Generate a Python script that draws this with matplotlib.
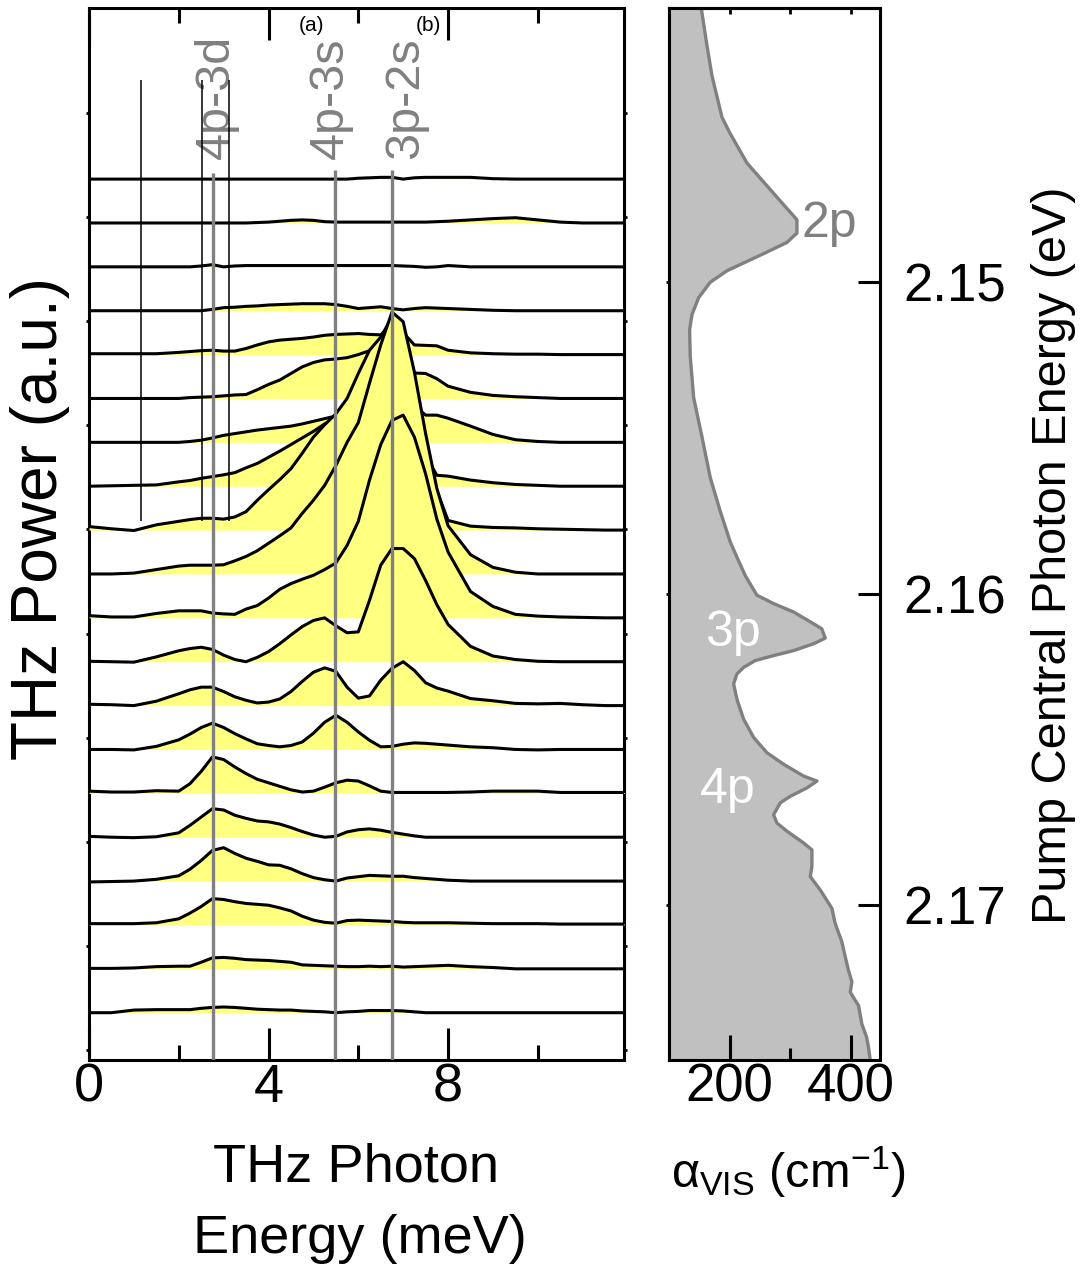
import numpy as np
import matplotlib
matplotlib.use("Agg")
import matplotlib.pyplot as plt

plt.rcParams['font.family'] = ['Liberation Sans', 'DejaVu Sans']
plt.rcParams['mathtext.fontset'] = 'custom'
plt.rcParams['mathtext.rm'] = 'Liberation Sans'
plt.rcParams['mathtext.it'] = 'Liberation Sans'

# THz photon energy grid (meV)
thz_energy = [0, 0.5, 1, 1.5, 2, 2.25, 2.5, 2.75, 3, 3.25, 3.5, 3.75, 4, 4.25, 4.5, 4.75,
              5, 5.25, 5.5, 5.75, 6, 6.25, 6.5, 6.75, 7, 7.25, 7.5, 7.75, 8, 8.5, 9, 9.5,
              10, 10.5, 11, 11.5, 12]

# THz power spectra, top trace first, in units of the trace offset
thz_power = [
    [0, 0, 0, 0, 0, 0, 0, 0, 0, 0, 0, 0, 0, 0, 0, 0, 0, 0, 0, 0, 0.02, 0.03, 0.04, 0.04, 0.0,
     0.03, 0.04, 0.04, 0.04, 0.04, 0.01, 0, 0, 0, 0, 0, 0],
    [0, 0, 0, 0, 0, 0, 0, 0, 0, 0, 0, 0.01, 0.02, 0.04, 0.06, 0.07, 0.06, 0.03, 0.02, 0.02, 0.02,
     0.02, 0.02, 0.02, 0.02, 0.02, 0.02, 0.03, 0.04, 0.07, 0.1, 0.12, 0.07, 0.02, 0, 0, 0],
    [0, 0, 0, 0, 0, 0, 0.02, 0.05, 0.0, 0.02, 0.03, 0.03, 0.03, 0.03, 0.03, 0.03, 0.03, 0.03, 0.03,
     0.03, 0.03, 0.03, 0.03, 0.03, 0.02, 0.01, -0.01, 0.0, 0.03, 0.0, 0, 0, 0, 0, 0, 0, 0],
    [0, 0, 0, 0, 0, 0, 0, 0.03, 0.07, 0.08, 0.1, 0.11, 0.13, 0.14, 0.15, 0.16, 0.16, 0.16, 0.14,
     0.1, 0.05, 0.07, 0.09, 0.05, 0.02, 0.05, 0.07, 0.06, 0.05, 0.03, 0.01, 0, 0, 0, 0, 0, 0],
    [0.02, 0.02, 0.02, 0.02, 0.05, 0.07, 0.09, 0.1, 0.08, 0.08, 0.14, 0.22, 0.29, 0.33, 0.35, 0.37,
     0.4, 0.44, 0.46, 0.47, 0.48, 0.46, 0.45, 0.7, 0.5, 0.22, 0.21, 0.2, 0.1, 0.04, 0.02, 0.01,
     0.01, 0, 0, 0, 0],
    [0, 0, 0, 0, 0, 0.02, 0.03, 0.04, 0.06, 0.08, 0.09, 0.2, 0.32, 0.42, 0.57, 0.72, 0.82, 0.88,
     0.9, 0.93, 1.0, 1.09, 1.2, 1.5, 1.2, 0.58, 0.57, 0.45, 0.28, 0.14, 0.07, 0.04, 0.02, 0, 0, 0, 0],
    [0, 0, 0, 0, 0, 0.02, 0.05, 0.1, 0.16, 0.2, 0.24, 0.28, 0.31, 0.34, 0.37, 0.42, 0.48, 0.54,
     0.6, 0.75, 0.95, 1.2, 1.5, 1.7, 1.3, 0.85, 0.62, 0.62, 0.55, 0.37, 0.18, 0.06, 0.02, 0, 0, 0, 0],
    [0, 0.01, 0.02, 0.03, 0.1, 0.13, 0.18, 0.22, 0.26, 0.31, 0.42, 0.52, 0.66, 0.8, 0.95, 1.1,
     1.25, 1.42, 1.55, 1.75, 2.0, 2.4, 2.8, 3.0, 2.2, 1.4, 0.7, 0.25, 0.23, 0.14, 0.08, 0.04,
     0.02, 0, 0, 0, 0],
    [0.08, 0.03, -0.01, 0.12, 0.2, 0.24, 0.27, 0.27, 0.25, 0.3, 0.42, 0.68, 0.92, 1.15, 1.4, 1.75,
     2.12, 2.4, 2.65, 3.0, 3.57, 4.1, 4.4, 4.85, 4.3, 3.2, 2.0, 0.9, 0.22, 0.09, 0.06, 0.05,
     0.03, 0.02, 0.01, 0, 0],
    [0, 0, 0.02, 0.1, 0.18, 0.2, 0.2, 0.2, 0.21, 0.3, 0.4, 0.53, 0.7, 0.87, 1.05, 1.38, 1.68,
     2.02, 2.47, 3.0, 3.45, 4.35, 5.22, 5.97, 5.75, 4.6, 3.2, 1.95, 1.1, 0.44, 0.15, 0.04,
     0.0, 0, 0, 0, 0],
    [0.05, 0.02, 0.02, 0.1, 0.16, 0.16, 0.16, 0.11, 0.09, 0.08, 0.2, 0.28, 0.45, 0.65, 0.78, 0.88,
     0.97, 1.1, 1.25, 1.65, 2.2, 3.14, 3.95, 4.5, 4.62, 4.12, 3.28, 2.25, 1.5, 0.6, 0.26, 0.08,
     0.04, 0.02, 0.01, 0, 0],
    [0.01, 0.0, -0.01, 0.11, 0.25, 0.3, 0.33, 0.28, 0.15, 0.05, 0.0, 0.1, 0.23, 0.41, 0.61, 0.8,
     0.94, 1.0, 0.82, 0.66, 0.68, 1.4, 2.2, 2.58, 2.58, 2.35, 1.85, 1.3, 0.85, 0.35, 0.13, 0.05,
     0.01, 0, 0, 0, 0],
    [0.03, 0.02, 0.0, 0.1, 0.27, 0.36, 0.42, 0.42, 0.32, 0.2, 0.12, 0.06, 0.08, 0.15, 0.32, 0.55,
     0.76, 0.86, 0.78, 0.42, 0.17, 0.22, 0.58, 0.85, 1.0, 0.8, 0.52, 0.4, 0.33, 0.16, 0.11, 0.05,
     0.04, 0.05, 0.02, 0.0, 0],
    [0, 0, -0.01, 0.07, 0.22, 0.35, 0.5, 0.6, 0.5, 0.36, 0.24, 0.13, 0.09, 0.06, 0.09, 0.17, 0.37,
     0.62, 0.78, 0.62, 0.4, 0.21, 0.06, 0.07, 0.12, 0.15, 0.14, 0.12, 0.1, 0.06, 0.04, 0.0,
     -0.01, 0, 0, 0, 0],
    [0.05, 0.03, 0.03, 0.06, 0.05, 0.22, 0.5, 0.83, 0.77, 0.6, 0.45, 0.32, 0.24, 0.16, 0.08, 0.03,
     0.05, 0.14, 0.24, 0.3, 0.28, 0.17, 0.05, 0.02, 0.02, 0.02, 0.02, 0.02, 0.02, 0.03, 0.05,
     0.05, 0.05, 0.02, 0.02, 0.02, 0.02],
    [0.02, 0.0, -0.01, 0.01, 0.1, 0.27, 0.46, 0.65, 0.62, 0.5, 0.43, 0.37, 0.35, 0.3, 0.22, 0.13,
     0.05, 0.0, 0.02, 0.12, 0.17, 0.19, 0.16, 0.11, 0.07, 0.03, 0.0, 0, 0, 0, 0, 0, 0, 0, 0, 0, 0],
    [-0.02, -0.01, 0.0, 0.04, 0.12, 0.27, 0.47, 0.7, 0.76, 0.63, 0.52, 0.45, 0.37, 0.36, 0.28,
     0.17, 0.08, 0.03, 0.0, 0.07, 0.1, 0.13, 0.12, 0.11, 0.11, 0.08, 0.06, 0.04, 0.02, 0, 0, 0,
     0, 0, 0, 0, 0],
    [0.03, 0.03, 0.03, 0.05, 0.14, 0.27, 0.42, 0.6, 0.58, 0.53, 0.49, 0.47, 0.45, 0.39, 0.32, 0.2,
     0.11, 0.06, 0.04, 0.1, 0.11, 0.1, 0.09, 0.08, 0.06, 0.05, 0.05, 0.05, 0.05, 0.04, 0.03,
     0.03, 0.03, 0.02, 0.02, 0.02, 0.02],
    [0.01, 0.01, 0.02, 0.05, 0.06, 0.06, 0.15, 0.25, 0.26, 0.24, 0.21, 0.2, 0.19, 0.17, 0.15,
     0.09, 0.08, 0.07, 0.06, 0.05, 0.05, 0.06, 0.05, 0.06, 0.04, 0.05, 0.06, 0.07, 0.08, 0.05,
     0.03, 0.0, 0, 0, 0, 0, 0],
    [0, 0, 0.06, 0.07, 0.07, 0.07, 0.1, 0.12, 0.13, 0.12, 0.1, 0.08, 0.07, 0.06, 0.06, 0.04,
     0.03, 0.02, 0.0, 0.02, 0.03, 0.05, 0.05, 0.05, 0.04, 0.02, 0.0, 0, 0, 0, 0, 0, 0, 0, 0, 0, 0],
]

# exciton transitions (meV) and extra marker lines
transition_names = ['4p-3d', '4p-3s', '3p-2s']
transition_mev = [2.766, 5.48, 6.76]
marker_mev = [1.167, 2.52, 3.12]

# visible absorption vs pump central photon energy
pump_energy = [2.14117, 2.14239, 2.14337, 2.14470, 2.14519, 2.14617, 2.14690, 2.14763,
               2.14799, 2.14842, 2.14872, 2.14903, 2.14933, 2.14963, 2.15000, 2.15049,
               2.15103, 2.15152, 2.15237, 2.15371, 2.15493, 2.15627, 2.15736, 2.15834,
               2.15895, 2.15943, 2.16005, 2.16032, 2.16059, 2.16097, 2.16113, 2.16143,
               2.16161, 2.16183, 2.16199, 2.16215, 2.16237, 2.16258, 2.16290, 2.16339,
               2.16403, 2.16462, 2.16511, 2.16548, 2.16586, 2.16602, 2.16624, 2.16651,
               2.16672, 2.16710, 2.16737, 2.16763, 2.16801, 2.16823, 2.16876, 2.16909,
               2.16952, 2.17011, 2.17059, 2.17118, 2.17167, 2.17210, 2.17247, 2.17280,
               2.17306, 2.17323, 2.17382, 2.17425, 2.17457, 2.17500]
alpha_vis = [153, 162.6, 170.9, 187.4, 200, 228.6, 261.5, 294.5, 311, 311, 294.5, 261.5, 228.6,
             195.6, 168, 149, 138, 134, 135, 140.7, 154, 168, 184.6, 201, 214.8, 226, 245, 272.5,
             305.5, 338.5, 352, 357.7, 338.5, 305.5, 272.5, 242.3, 223, 212, 206.6, 212, 223,
             239.6, 261.5, 289, 322, 344, 327.5, 300, 283.5, 272.5, 278, 294.5, 322, 335.7,
             335.7, 333, 349.5, 368.7, 374, 385, 390.7, 396, 401.6, 399, 407, 412.6, 418, 426,
             429, 432]

W, H = 1089, 1268
fig = plt.figure(figsize=(W / 100, H / 100), dpi=100)
ax1 = fig.add_axes([89 / W, 208 / H, 535 / W, 1052 / H])
ax2 = fig.add_axes([669 / W, 208 / H, 211 / W, 1052 / H])

# ---- left panel: stacked THz spectra
x = np.array(thz_energy)
n = len(thz_power)
for i, row in enumerate(thz_power):
    base = n - 1 - i
    v = np.array(row)
    ax1.fill_between(x, base, base + np.clip(v, 0, None), color='#ffff80', lw=0,
                     zorder=2 + 2 * i)
    ax1.plot(x, base + v, color='k', lw=2.2, zorder=3 + 2 * i)

ax1.set_xlim(0, 11.92)
ax1.set_ylim(-1.078, 22.9)
ax1.vlines(transition_mev, -1.078, [19.14, 19.2, 19.2], colors='#808080', lw=2.4, zorder=60)
ax1.vlines(marker_mev, 11.2, 21.26, colors='k', lw=1.1, zorder=61)
for name, xp in zip(transition_names, [2.83, 5.38, 7.05]):
    ax1.text(xp, 19.45, name, rotation=90, ha='center', va='bottom', fontsize=35,
             color='#808080')
ax1.text(4.95, 22.5, '(a)', ha='center', va='center', fontsize=15)
ax1.text(7.57, 22.5, '(b)', ha='center', va='center', fontsize=15)

ax1.set_xticks([0, 4, 8])
ax1.set_xticks([2, 6, 10], minor=True)
ax1.tick_params(axis='x', which='major', direction='in', length=23, width=2.2, top=True,
                labelsize=39, pad=2)
ax1.tick_params(axis='x', which='minor', direction='in', length=11, width=2.2, top=True)
ax1.set_yticks(-0.85 + 2.373 * np.arange(10))
ax1.tick_params(axis='y', direction='out', length=2.5, width=2, left=True, right=True,
                labelleft=False)

# ---- right panel: visible absorption
ax2.fill_betweenx(pump_energy, 100, alpha_vis, color='#c0c0c0', lw=0)
ax2.plot(alpha_vis, pump_energy, color='#808080', lw=2.4)
ax2.set_xlim(100, 448)
ax2.set_ylim(2.17498, 2.14119)
ax2.text(318, 2.14814, '2p', color='#808080', fontsize=36, ha='left', va='center')
ax2.text(159, 2.16128, '3p', color='white', fontsize=36, ha='left', va='center')
ax2.text(151, 2.16632, '4p', color='white', fontsize=36, ha='left', va='center')

ax2.set_xticks([200, 400])
ax2.set_xticks([300], minor=True)
ax2.tick_params(axis='x', which='major', direction='in', length=18, width=2.2,
                labelsize=38, pad=2)
ax2.tick_params(axis='x', which='minor', direction='in', length=9, width=2.2)
ax2.set_yticks([2.15, 2.16, 2.17])
ax2.set_yticklabels(['2.15', '2.16', '2.17'])
ax2.yaxis.tick_right()
ax2.tick_params(axis='y', direction='in', length=16, width=2.2, labelsize=38, pad=17)

top2 = ax2.secondary_xaxis('top')
top2.set_xticks([200, 300, 400])
top2.tick_params(direction='in', length=4, width=2, labeltop=False)
left2 = ax2.secondary_yaxis('left')
left2.set_yticks([2.15, 2.16, 2.17])
left2.tick_params(direction='out', length=2.5, width=2, labelleft=False)

for ax in (ax1, ax2, top2, left2):
    for sp in ax.spines.values():
        sp.set_linewidth(2.2)

# ---- labels
fig.text(356 / W, 1 - 1182 / H, 'THz Photon', ha='center', va='baseline', fontsize=39)
fig.text(360 / W, 1 - 1253 / H, 'Energy (meV)', ha='center', va='baseline', fontsize=39)
fig.text(788 / W, 1 - 1188 / H, r'$\alpha_{\mathrm{VIS}}$ (cm$^{\mathrm{-1}}$)',
         ha='center', va='baseline', fontsize=35)
fig.text(40 / W, 1 - 518 / H, 'THz Power (a.u.)', rotation=90, ha='center', va='center',
         fontsize=46)
fig.text(1054 / W, 1 - 555 / H, 'Pump Central Photon Energy (eV)', rotation=90,
         ha='center', va='center', fontsize=35)

fig.savefig('out.png', dpi=100)
